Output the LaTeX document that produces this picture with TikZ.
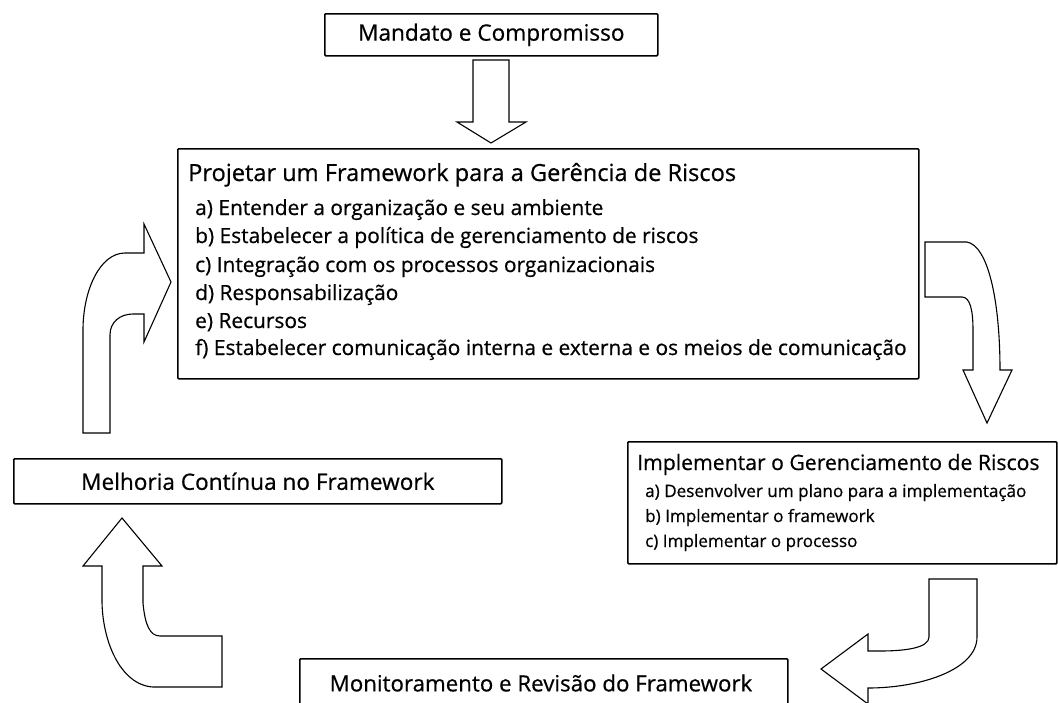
\documentclass[tikz,border=0pt]{standalone}
\usepackage{fontspec}
\setmainfont{Open Sans}[FakeBold=0.6]
\usetikzlibrary{positioning}

\begin{document}
\begin{tikzpicture}[
    x=1pt, y=-1pt,
    box/.style={rectangle, draw=black, line width=1.6pt, rounded corners=1pt,
        inner sep=0pt, anchor=north west},
    head/.style={anchor=base west, inner sep=0pt, font=\fontsize{23.6}{28}\selectfont},
    item/.style={anchor=base west, inner sep=0pt, font=\fontsize{20.9}{25}\selectfont},
    smallhead/.style={anchor=base west, inner sep=0pt, font=\fontsize{21.2}{25}\selectfont},
    smallitem/.style={anchor=base west, inner sep=0pt, font=\fontsize{17.1}{20}\selectfont},
    label/.style={inner sep=0pt, font=\fontsize{22.6}{27}\selectfont},
    barrow/.style={draw=black, line width=1.1pt, fill=white, line join=miter}
]
\useasboundingbox (0,0) rectangle (1058,702);

% boxes
\node [box, minimum width=333, minimum height=42] (mandato) at (324,13) {};
\node [box, minimum width=741, minimum height=230] (projetar) at (177,148) {};
\node [box, minimum width=429, minimum height=122] (implementar) at (627,441) {};
\node [box, minimum width=488, minimum height=45] (melhoria) at (13,458) {};
\node [box, minimum width=488, minimum height=50] (monitor) at (299,658) {};

% texts
\node [label] (mandatoT) at (mandato.center) {Mandato e Compromisso};
\node [label] (melhoriaT) at (melhoria.center) {Melhoria Contínua no Framework};
\node [label, font=\fontsize{22.3}{27}\selectfont] (monitorT) at (541,683) {Monitoramento e Revisão do Framework};

\node [head] (projT) at (188,181) {Projetar um Framework para a Gerência de Riscos};
\node [item] (projA) at (195,215) {a) Entender a organização e seu ambiente};
\node [item] (projB) at (195,243) {b) Estabelecer a política de gerenciamento de riscos};
\node [item] (projC) at (195,272) {c) Integração com os processos organizacionais};
\node [item] (projD) at (195,300) {d) Responsabilização};
\node [item] (projE) at (195,328) {e) Recursos};
\node [item] (projF) at (195,355) {f) Estabelecer comunicação interna e externa e os meios de comunicação};

\node [smallhead] (implT) at (637,470) {Implementar o Gerenciamento de Riscos};
\node [smallitem] (implA) at (645,497) {a) Desenvolver um plano para a implementação};
\node [smallitem] (implB) at (645,522) {b) Implementar o framework};
\node [smallitem] (implC) at (645,547) {c) Implementar o processo};

% block arrows
\draw [barrow] (473,60) -- (509,60) -- (509,122) -- (526,122) -- (491,143)
    -- (457,122) -- (473,122) -- cycle;
\draw [barrow] (925,242) -- (967,242) .. controls (988,246) and (1000,300) .. (1000,370)
    -- (1012,370) -- (987,423) -- (963,370) -- (973,370) -- (973,330)
    .. controls (973,310) and (970,297) .. (962,297) -- (925,297) -- cycle;
\draw [barrow] (929,579) -- (977,579) -- (977,637) .. controls (977,670) and (920,688) .. (868,688)
    -- (868,704) -- (821,669) -- (868,634) -- (868,651) -- (880,651)
    .. controls (905,651) and (929,648) .. (929,637) -- cycle;
\draw [barrow] (222,636) -- (222,687) -- (153,687) .. controls (120,685) and (102,640) .. (102,600)
    -- (102,566) -- (83,566) -- (122,518) -- (162,566) -- (143,566) -- (143,603)
    .. controls (145,625) and (150,636) .. (160,636) -- cycle;
\draw [barrow] (83,433) -- (83,330) .. controls (83,290) and (100,253) .. (125,253)
    -- (144,253) -- (144,224) -- (171,282) -- (144,342) -- (144,314) -- (133,314)
    .. controls (120,314) and (110,322) .. (110,335) -- (110,433) -- cycle;

\end{tikzpicture}
\end{document}
